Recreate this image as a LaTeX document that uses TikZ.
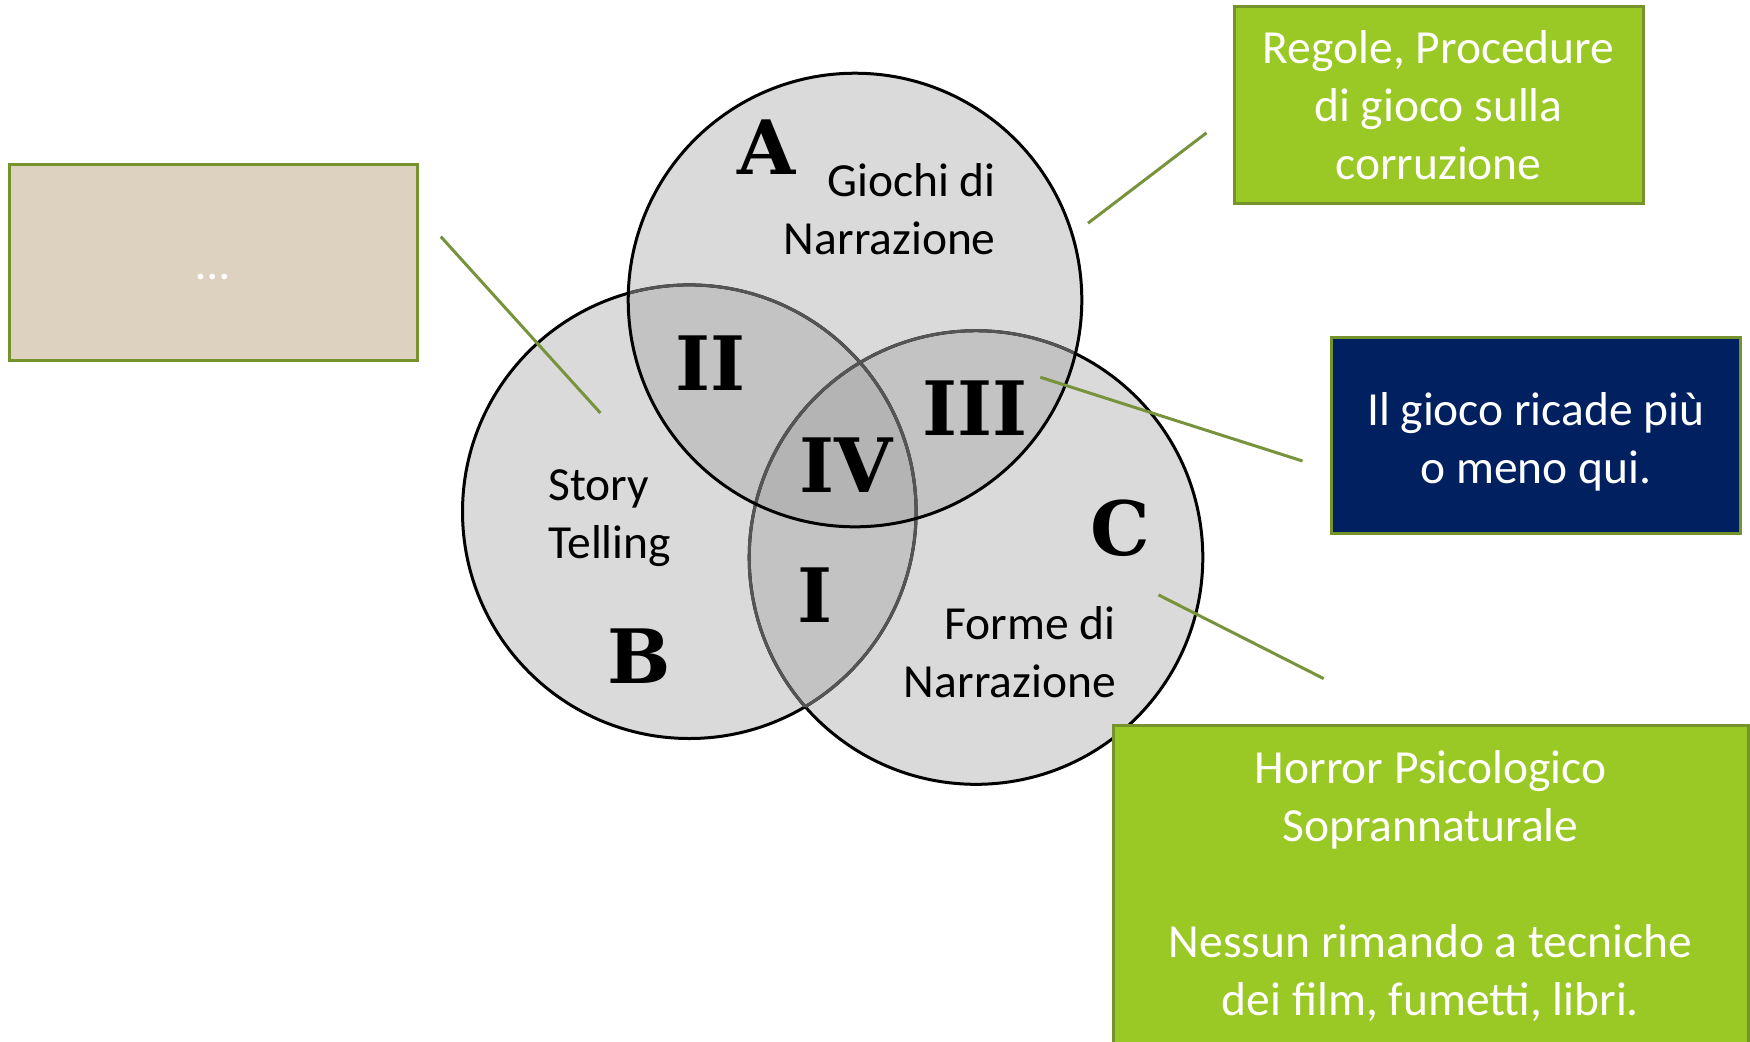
\documentclass[tikz,border=0pt]{standalone}
\usepackage{fontspec}
\setmainfont{Carlito}
\newfontfamily\slabfont{DejaVu Serif}

\definecolor{regionone}{RGB}{218,218,218}
\definecolor{regiontwo}{RGB}{195,195,195}
\definecolor{regionthree}{RGB}{180,180,180}
\definecolor{hiddenrim}{RGB}{85,85,85}
\definecolor{leadcol}{RGB}{119,147,60}
\definecolor{boxrim}{RGB}{118,146,45}
\definecolor{limefill}{RGB}{154,200,36}
\definecolor{navyfill}{RGB}{0,32,96}
\definecolor{tanfill}{RGB}{221,209,192}

\tikzset{
  venntext/.style={font=\fontsize{23.75}{29}\selectfont, inner sep=0pt},
  roman/.style={font=\slabfont\bfseries\fontsize{37.5}{40}\selectfont, inner sep=0pt},
  callout/.style={draw=boxrim, line width=1.5pt, text=white, align=center,
    font=\fontsize{23.75}{29}\selectfont, inner sep=0pt},
  leader/.style={draw=leadcol, line width=1.5pt},
  rim/.style={draw=black, line width=1.5pt},
  coveredrim/.style={draw=hiddenrim, line width=1.5pt},
}

\begin{document}
\begin{tikzpicture}[x=0.5pt,y=-0.5pt]
\useasboundingbox (0,0) rectangle (1750,1041);

\def\rr{113.4pt}
\coordinate (cA) at (855,300);
\coordinate (cB) at (689.3,511.7);
\coordinate (cC) at (976,557.5);

% single-set shading
\fill[regionone] (cA) circle[radius=\rr];
\fill[regionone] (cB) circle[radius=\rr];
\fill[regionone] (cC) circle[radius=\rr];
% pairwise overlaps
\begin{scope}
  \clip (cB) circle[radius=\rr];
  \fill[regiontwo] (cC) circle[radius=\rr];
\end{scope}
\begin{scope}
  \clip (cA) circle[radius=\rr];
  \fill[regiontwo] (cB) circle[radius=\rr];
  \fill[regiontwo] (cC) circle[radius=\rr];
  % triple overlap
  \clip (cB) circle[radius=\rr];
  \fill[regionthree] (cC) circle[radius=\rr];
\end{scope}

% outlines: B and C show lighter where another set lies over them
\draw[rim] (cC) circle[radius=\rr];
\draw[rim] (cB) circle[radius=\rr];
\begin{scope}
  \clip (cA) circle[radius=\rr];
  \draw[coveredrim] (cB) circle[radius=\rr];
  \draw[coveredrim] (cC) circle[radius=\rr];
\end{scope}
\begin{scope}
  \clip (cB) circle[radius=\rr];
  \draw[coveredrim] (cC) circle[radius=\rr];
\end{scope}
\begin{scope}
  \clip (cC) circle[radius=\rr];
  \draw[coveredrim] (cB) circle[radius=\rr];
\end{scope}
\draw[rim] (cA) circle[radius=\rr];

% set names
\node[venntext, align=right, anchor=east] (nameA) at (996,209) {Giochi di\\Narrazione};
\node[venntext, align=left, anchor=west] (nameB) at (548,518) {Story\\Telling};
\node[venntext, align=right, anchor=east] (nameC) at (1116,652.5) {Forme di\\Narrazione};

% region letters
\node[roman] (lA) at (766.8,147.3) {A};
\node[roman] (lB) at (639,655.7) {B};
\node[roman] (lC) at (1120.5,528.5) {C};
\node[roman] (rI) at (814.7,594.9) {I};
\node[roman] (rII) at (710.4,362.7) {II};
\node[roman] (rIII) at (974.9,408.5) {III};
\node[roman] (rIV) at (846,465.4) {IV};

% callout boxes
\node[callout, fill=tanfill, minimum width=204pt, minimum height=98.25pt] (boxTan) at (213,262.3)
  {\strut\raisebox{-3pt}{…}};
\node[callout, fill=limefill, minimum width=204.5pt, minimum height=98.5pt] (boxRules) at (1438.5,105.4)
  {Regole, Procedure\\di gioco sulla\\corruzione};
\node[callout, fill=navyfill, minimum width=204.25pt, minimum height=98.25pt] (boxHere) at (1535.8,435.3)
  {\rule{0pt}{23.4pt}Il gioco ricade più\\o meno qui.};
\node[callout, fill=limefill, minimum width=317.5pt, minimum height=161pt] (boxGenre) at (1430.5,886)
  {Horror Psicologico\\Soprannaturale\\[29pt]Nessun rimando a tecniche\\dei film, fumetti, libri.};

% leader lines
\coordinate (t1a) at (440.8,236.6);  \coordinate (t1b) at (600.4,413);
\coordinate (t2a) at (1088,223.2);   \coordinate (t2b) at (1206.5,132.8);
\coordinate (t3a) at (1040.2,377.2); \coordinate (t3b) at (1302.5,461);
\coordinate (t4a) at (1158.5,594.9); \coordinate (t4b) at (1323.7,678.6);
\draw[leader] (t1a) -- (t1b);
\draw[leader] (t2a) -- (t2b);
\draw[leader] (t3a) -- (t3b);
\draw[leader] (t4a) -- (t4b);
\end{tikzpicture}
\end{document}
